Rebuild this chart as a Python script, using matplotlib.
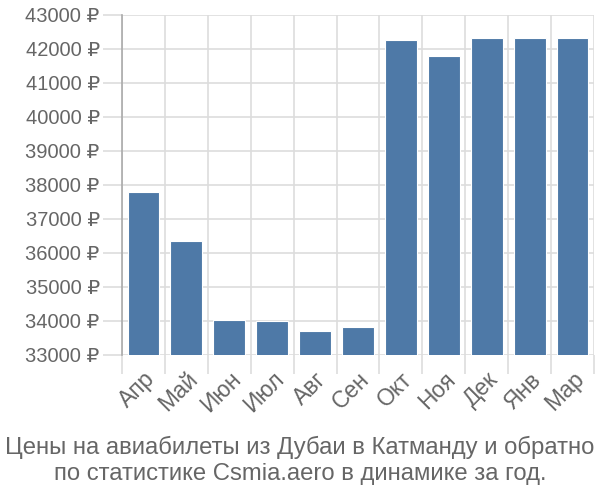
import matplotlib
matplotlib.use("Agg")
import matplotlib.pyplot as plt
from matplotlib.ticker import FuncFormatter, MultipleLocator

plt.rcParams['font.family'] = ['Liberation Sans', 'DejaVu Sans']

months = ["Апр", "Май", "Июн", "Июл", "Авг", "Сен", "Окт", "Ноя", "Дек", "Янв", "Мар"]
prices = [37785, 36345, 34030, 33990, 33705, 33815, 42256, 41794, 42324, 42324, 42324]
title = "Цены на авиабилеты из Дубаи в Катманду и обратно\nпо статистике Csmia.aero в динамике за год."

fig = plt.figure(figsize=(6, 5), dpi=100)
ax = fig.add_axes([0.2033, 0.29, 0.7867, 0.68])

x = list(range(len(months)))
ax.bar(x, prices, width=0.74, color="#4e79a7", edgecolor="white", linewidth=0.8, zorder=3)

ax.set_xlim(-0.5, len(months) - 0.5)
ax.set_ylim(33000, 43000)
ax.yaxis.set_major_locator(MultipleLocator(1000))
ax.yaxis.set_major_formatter(FuncFormatter(lambda v, p: f"{int(v)} ₽"))

ax.set_xticks([i - 0.5 for i in range(len(months) + 1)], minor=False)
ax.set_xticklabels([])
ax.set_xticks(x, minor=True)
ax.set_xticklabels(months, minor=True, rotation=45, ha="right", rotation_mode="anchor",
                   fontsize=16.5, color="#666666")
ax.tick_params(axis="x", which="minor", length=0, pad=9)
ax.tick_params(axis="x", which="major", length=14, color="#dddddd", width=1.2)
ax.tick_params(axis="y", length=14, color="#dddddd", width=1.2, labelsize=14.5,
               labelcolor="#666666", pad=2)

ax.grid(True, which="major", color="#dddddd", linewidth=1.2, zorder=0)
for s in ["top", "right", "bottom"]:
    ax.spines[s].set_visible(False)
ax.spines["left"].set_color("#aaaaaa")
ax.spines["left"].set_linewidth(1.2)

fig.text(0.5, 0.079, title, ha="center", va="center", fontsize=17.2, color="#666666",
         linespacing=1.22)

fig.savefig("out.png", dpi=100)
